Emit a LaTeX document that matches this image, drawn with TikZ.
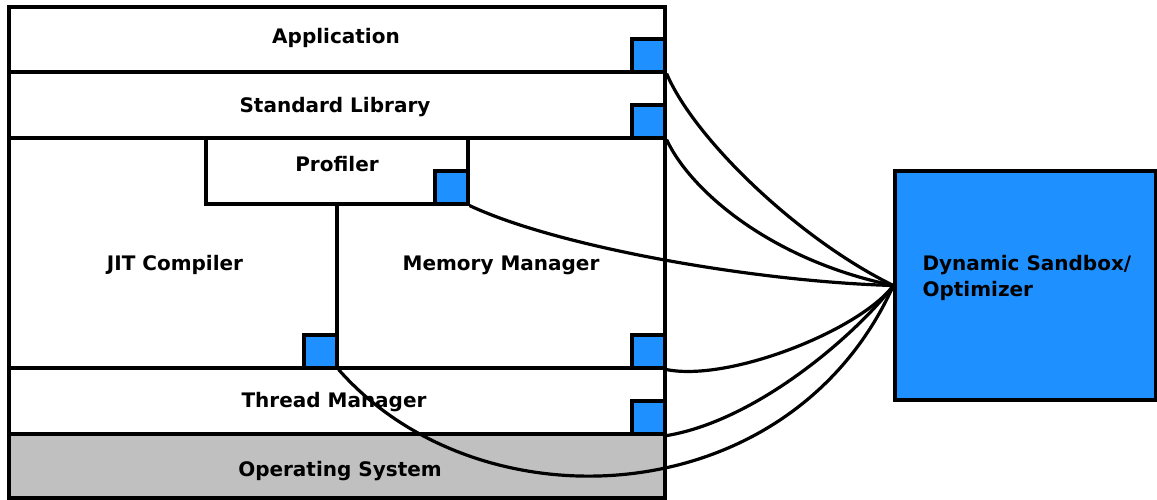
\documentclass[tikz,border=0pt]{standalone}
\usepackage{fontspec}
\setmainfont{DejaVu Sans}
\definecolor{dblue}{HTML}{1E90FF}
\definecolor{osgray}{HTML}{C0C0C0}
\begin{document}
\begin{tikzpicture}[x=1pt,y=-1pt, line width=3.2pt,
  box/.style={draw=black, rectangle, inner sep=0pt, fill=white},
  sq/.style={draw=black, fill=dblue, rectangle, minimum width=33pt, minimum height=33pt, inner sep=0pt, anchor=south east},
  lbl/.style={font=\fontsize{20}{24}\selectfont\bfseries, inner sep=0pt, anchor=base},
  conn/.style={draw=black, line width=3.2pt}]
\useasboundingbox (0,0) rectangle (1157,500);
\node[box, minimum width=656pt, minimum height=65pt] (app) at (337,39.5) {};
\node[box, minimum width=656pt, minimum height=66pt] (std) at (337,105) {};
\node[box, minimum width=328pt, minimum height=230pt] (jit) at (173,253) {};
\node[box, minimum width=328pt, minimum height=230pt] (mem) at (501,253) {};
\node[box, minimum width=262pt, minimum height=66pt] (prof) at (337,171) {};
\node[box, minimum width=656pt, minimum height=66pt] (thr) at (337,401) {};
\node[box, fill=osgray, minimum width=656pt, minimum height=64pt] (os) at (337,466) {};
\node[sq] (appq) at (app.south east) {};
\node[sq] (stdq) at (std.south east) {};
\node[sq] (profq) at (prof.south east) {};
\node[sq] (jitq) at (jit.south east) {};
\node[sq] (memq) at (mem.south east) {};
\node[sq] (thrq) at (thr.south east) {};
\node[box, fill=dblue, minimum width=261pt, minimum height=229pt] (sb) at (1025.5,285.5) {};
\node[lbl] (appl) at (336,43.3) {Application};
\node[lbl] (stdl) at (335,112.3) {Standard Library};
\node[lbl] (profl) at (337,171.3) {Profiler};
\node[lbl] (jitl) at (175,270.3) {JIT Compiler};
\node[lbl] (meml) at (501,270.3) {Memory Manager};
\node[lbl] (thrl) at (334,407.3) {Thread Manager};
\node[lbl] (osl) at (340,476.3) {Operating System};
\node[lbl, anchor=base west] (sbl1) at (921,270.3) {Dynamic Sandbox/};
\node[lbl, anchor=base west] (sbl2) at (921,296.3) {Optimizer};
\draw[conn] (appq.south east) .. controls (695,140) and (800,240) .. (sb.west);
\draw[conn] (stdq.south east) .. controls (690,190) and (770,260) .. (sb.west);
\draw[conn] (profq.south east) .. controls (560,248) and (760,282) .. (sb.west);
\draw[conn] (memq.south east) .. controls (730,382) and (860,330) .. (sb.west);
\draw[conn] (thrq.south east) .. controls (760,420) and (860,330) .. (sb.west);
\draw[conn] (jitq.south east) .. controls (480,530) and (790,515) .. (sb.west);
\end{tikzpicture}
\end{document}
